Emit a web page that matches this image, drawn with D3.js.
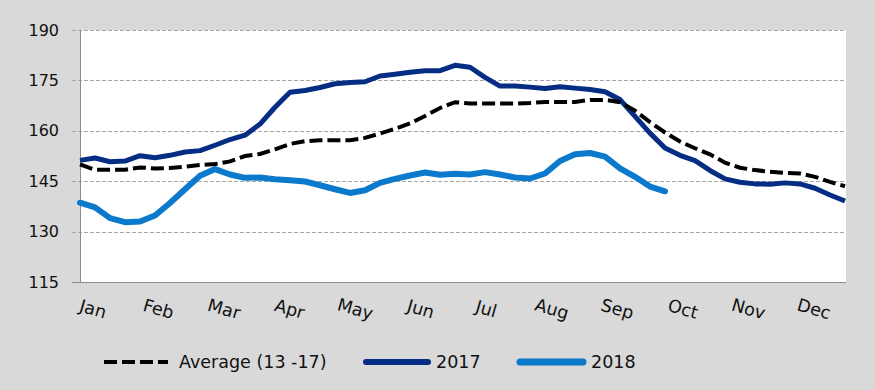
<!DOCTYPE html>
<html lang="en">
	<head>
		<meta charset="utf-8">
		<title>Weekly chart</title>
		<script type="text/javascript" src="https://cdn.jsdelivr.net/npm/d3@7"></script>
		<style>
			body { margin: 0; background: #d9d9d9; }
			text {
				font-family: "DejaVu Sans", sans-serif;
				fill: #111;
			}
			.axis path { display: none; }
			.axis line { stroke: #8c8c8c; }
			.axis text { font-size: 16px; }
		</style>
	</head>
	<body>
		<script type="text/javascript">
			// weekly values, week 1..52
			var avg = [150.0, 148.4, 148.4, 148.4, 149.1, 148.8, 148.9, 149.3, 149.8, 150.1,
			           150.9, 152.5, 153.1, 154.5, 156.1, 156.9, 157.2, 157.2, 157.2, 157.9,
			           159.2, 160.6, 162.2, 164.4, 166.8, 168.5, 168.1, 168.1, 168.1, 168.1,
			           168.3, 168.6, 168.6, 168.6, 169.2, 169.2, 168.5, 166.0, 162.6, 159.5,
			           156.8, 154.8, 153.0, 150.5, 149.0, 148.3, 147.8, 147.5, 147.3, 146.3,
			           144.8, 143.5];
			var y2017 = [151.2, 151.9, 150.8, 151.0, 152.6, 152.0, 152.7, 153.7, 154.1, 155.7,
			             157.4, 158.7, 162.0, 167.0, 171.5, 172.0, 172.9, 174.0, 174.4, 174.6,
			             176.3, 176.8, 177.4, 177.9, 177.9, 179.5, 178.9, 175.9, 173.3, 173.3,
			             173.0, 172.6, 173.1, 172.7, 172.3, 171.6, 169.3, 164.3, 159.3, 154.9,
			             152.7, 151.1, 148.2, 145.7, 144.7, 144.2, 144.1, 144.5, 144.2, 142.9,
			             140.9, 139.1];
			var y2018 = [138.6, 137.2, 134.0, 132.8, 133.0, 134.8, 138.5, 142.6, 146.6, 148.6,
			             147.0, 146.0, 146.1, 145.6, 145.3, 144.9, 143.8, 142.6, 141.5, 142.3,
			             144.5, 145.7, 146.7, 147.6, 146.9, 147.2, 147.0, 147.7, 147.0, 146.1,
			             145.8, 147.3, 151.0, 153.0, 153.4, 152.3, 148.8, 146.3, 143.4, 142.0];
			var months = ["Jan", "Feb", "Mar", "Apr", "May", "Jun", "Jul", "Aug", "Sep", "Oct", "Nov", "Dec"];
			var yTicks = [115, 130, 145, 160, 175, 190];
			var seriesNames = ["Average (13 -17)", "2017", "2018"];

			var w = 875;
			var h = 390;
			var padL = 80, padR = 846, padT = 30, padB = 282;

			var svg = d3.select("body")
						.append("svg")
						.attr("width", w)
						.attr("height", h);

			svg.append("rect")
			   .attr("width", w)
			   .attr("height", h)
			   .attr("fill", "#d9d9d9");

			var xScale = d3.scaleLinear()
						   .domain([0, 51])
						   .range([padL, padR - 1]);
			var yScale = d3.scaleLinear()
						   .domain([115, 190])
						   .range([padB, padT]);
			var mScale = d3.scalePoint()
						   .domain(months)
						   .range([93, 814]);

			// plot area
			svg.append("rect")
			   .attr("x", padL)
			   .attr("y", padT)
			   .attr("width", padR - padL)
			   .attr("height", padB - padT)
			   .attr("fill", "#fff");

			// gridlines
			svg.selectAll(".grid")
			   .data(yTicks.filter(function(d){ return d > 115; }))
			   .enter()
			   .append("line")
			   .attr("x1", padL - 8)
			   .attr("x2", padR)
			   .attr("y1", function(d){ return Math.round(yScale(d)) + 0.5; })
			   .attr("y2", function(d){ return Math.round(yScale(d)) + 0.5; })
			   .attr("stroke", "#a6a6a6")
			   .attr("stroke-dasharray", "4,2");

			// axes lines
			svg.append("line")
			   .attr("x1", padL + 0.5).attr("x2", padL + 0.5)
			   .attr("y1", padT).attr("y2", padB)
			   .attr("stroke", "#8c8c8c");
			svg.append("line")
			   .attr("x1", padL - 8).attr("x2", padR)
			   .attr("y1", Math.round(yScale(115)) + 0.5).attr("y2", Math.round(yScale(115)) + 0.5)
			   .attr("stroke", "#8c8c8c");

			// y axis labels
			svg.append("g")
			   .attr("class", "axis")
			   .attr("transform", "translate(" + padL + ",0)")
			   .call(d3.axisLeft(yScale).tickValues(yTicks).tickSize(0).tickPadding(21));

			// month labels
			svg.selectAll(".month")
			   .data(months)
			   .enter()
			   .append("text")
			   .attr("class", "month")
			   .attr("text-anchor", "middle")
			   .attr("dominant-baseline", "central")
			   .attr("font-size", "17.5px")
			   .attr("transform", function(d){ return "translate(" + mScale(d) + ",309) rotate(16)"; })
			   .text(function(d){ return d; });

			var line = d3.line()
						 .x(function(d, i){ return xScale(i); })
						 .y(function(d){ return yScale(d); });

			svg.append("path")
			   .datum(y2018)
			   .attr("d", line)
			   .attr("fill", "none")
			   .attr("stroke", "#0b79cc")
			   .attr("stroke-width", 6)
			   .attr("stroke-linejoin", "round")
			   .attr("stroke-linecap", "round");

			svg.append("path")
			   .datum(y2017)
			   .attr("d", line)
			   .attr("fill", "none")
			   .attr("stroke", "#062d84")
			   .attr("stroke-width", 5)
			   .attr("stroke-linejoin", "round");

			svg.append("path")
			   .datum(avg)
			   .attr("d", line)
			   .attr("fill", "none")
			   .attr("stroke", "#000")
			   .attr("stroke-width", 4)
			   .attr("stroke-dasharray", "13,5");

			// legend
			var legend = [
				{ name: seriesNames[0], x1: 104, x2: 168, color: "#000", width: 4, dash: "13,5", cap: "butt" },
				{ name: seriesNames[1], x1: 366, x2: 428, color: "#062d84", width: 6, dash: null, cap: "round" },
				{ name: seriesNames[2], x1: 520, x2: 583, color: "#0b79cc", width: 7, dash: null, cap: "round" }
			];
			var lg = svg.selectAll(".legend")
						.data(legend)
						.enter()
						.append("g");
			lg.append("line")
			  .attr("x1", function(d){ return d.x1; })
			  .attr("x2", function(d){ return d.x2; })
			  .attr("y1", 362).attr("y2", 362)
			  .attr("stroke", function(d){ return d.color; })
			  .attr("stroke-width", function(d){ return d.width; })
			  .attr("stroke-dasharray", function(d){ return d.dash; })
			  .attr("stroke-linecap", function(d){ return d.cap; });
			lg.append("text")
			  .attr("x", function(d){ return d.x2 + (d.dash ? 11 : 8); })
			  .attr("y", 362)
			  .attr("dominant-baseline", "central")
			  .attr("font-size", "17.5px")
			  .text(function(d){ return d.name; });
		</script>
	</body>
</html>
